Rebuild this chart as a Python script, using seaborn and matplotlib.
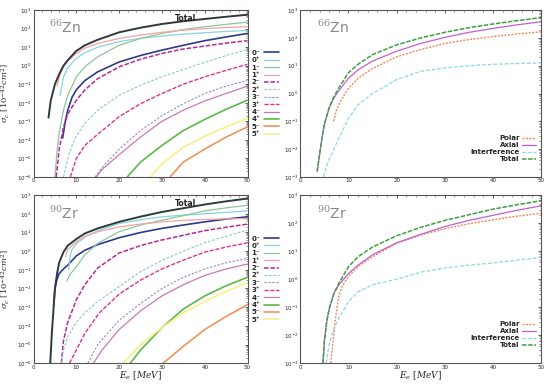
import numpy as np
import pandas as pd
import matplotlib
matplotlib.use("Agg")
import matplotlib.pyplot as plt
from matplotlib.ticker import MultipleLocator, LogLocator, NullFormatter
import seaborn as sns

sns.set_style("white")
plt.rcParams["font.family"] = ["DejaVu Sans"]
plt.rcParams["mathtext.fontset"] = "dejavuserif"

# ── data: E_e [MeV] and log10(sigma) ──────────────────────────────────
# 66Zn, multipole contributions
zn_tot_e = [3.5, 4, 5, 6, 7, 8, 10, 12, 15, 20, 25, 30, 35, 40, 45, 50]
zn_tot_v = [-2.8, -1.9, -1.0, -0.45, 0.0, 0.3, 0.8, 1.1, 1.4, 1.8, 2.05, 2.25, 2.4, 2.52, 2.64, 2.75]
zn_0m_e = [6.8, 7.5, 8, 9, 10, 12, 15, 20, 25, 30, 35, 40, 45, 50]
zn_0m_v = [-3.9, -2.9, -2.4, -1.7, -1.3, -0.8, -0.33, 0.2, 0.55, 0.84, 1.1, 1.35, 1.55, 1.74]
zn_0p_e = [6.2, 7, 8, 10, 12, 15, 20, 25, 30, 35, 40, 45, 50]
zn_0p_v = [-1.6, -0.6, -0.1, 0.4, 0.7, 1.0, 1.3, 1.48, 1.6, 1.7, 1.78, 1.85, 1.9]
zn_1m_e = [5, 5.5, 6, 7, 8, 10, 12, 15, 20, 25, 30, 35, 40, 45, 50]
zn_1m_v = [-6, -4.6, -3.6, -2.4, -1.6, -0.6, -0.05, 0.48, 1.1, 1.47, 1.74, 1.95, 2.1, 2.23, 2.35]
zn_1p_e = [5.5, 6, 7, 8, 10, 12, 15, 20, 25, 30, 35, 40, 45, 50]
zn_1p_v = [-1.1, -0.6, -0.05, 0.25, 0.66, 0.95, 1.2, 1.47, 1.65, 1.8, 1.92, 2.0, 2.06, 2.1]
zn_2m_e = [5.3, 6, 7, 8, 10, 12, 15, 20, 25, 30, 35, 40, 45, 50]
zn_2m_v = [-6, -4.5, -3.3, -2.6, -1.86, -1.3, -0.7, -0.06, 0.35, 0.66, 0.9, 1.06, 1.22, 1.35]
zn_2p_e = [7, 8, 9, 10, 12, 15, 20, 25, 30, 35, 40, 45, 50]
zn_2p_v = [-6, -5.0, -4.3, -3.8, -3.1, -2.4, -1.6, -1.05, -0.6, -0.2, 0.18, 0.55, 0.88]
zn_3m_e = [14.4, 16, 18, 20, 25, 30, 35, 40, 45, 50]
zn_3m_v = [-6, -5.5, -5.0, -4.5, -3.5, -2.7, -2.05, -1.5, -1.1, -0.8]
zn_3p_e = [8.6, 10, 12, 15, 20, 25, 30, 35, 40, 45, 50]
zn_3p_v = [-6, -5.0, -4.3, -3.7, -2.75, -2.05, -1.5, -1.0, -0.6, -0.25, 0.07]
zn_4m_e = [14.7, 16, 18, 20, 25, 30, 35, 40, 45, 50]
zn_4m_v = [-6, -5.6, -5.2, -4.8, -3.85, -3.0, -2.4, -1.9, -1.5, -1.1]
zn_4p_e = [21.9, 25, 30, 35, 40, 45, 50]
zn_4p_v = [-6, -5.2, -4.3, -3.5, -2.9, -2.35, -1.86]
zn_5m_e = [31.9, 35, 40, 45, 50]
zn_5m_v = [-6, -5.2, -4.5, -3.85, -3.3]
zn_5p_e = [27.3, 30, 35, 40, 45, 50]
zn_5p_v = [-6, -5.3, -4.4, -3.8, -3.3, -2.84]

# 90Zr, multipole contributions
zr_tot_e = [3.9, 4.3, 4.7, 5, 5.5, 6, 7, 8, 10, 12, 15, 20, 25, 30, 35, 40, 45, 50]
zr_tot_v = [-6, -4.3, -3.0, -2.0, -1.2, -0.6, -0.05, 0.3, 0.65, 0.95, 1.22, 1.57, 1.85, 2.1, 2.3, 2.5, 2.67, 2.82]
zr_0m_e = [4.7, 5, 5.5, 6, 7, 8, 10, 12, 15, 20, 25, 30, 35, 40, 45, 50]
zr_0m_v = [-2.9, -2.0, -1.5, -1.2, -0.95, -0.75, -0.25, 0.05, 0.35, 0.72, 1.0, 1.22, 1.4, 1.57, 1.72, 1.84]
zr_0p_e = [8.2, 8.6, 9, 10, 12, 15, 20, 25, 30, 35, 40, 45, 50]
zr_0p_v = [-1.0, -0.2, 0.1, 0.4, 0.75, 1.1, 1.48, 1.68, 1.84, 1.93, 2.0, 2.08, 2.16]
zr_1m_e = [7.8, 8.5, 10, 12, 15, 20, 25, 30, 35, 40, 45, 50]
zr_1m_v = [-1.6, -1.25, -0.83, -0.2, 0.42, 1.04, 1.4, 1.66, 1.9, 2.16, 2.32, 2.46]
zr_1p_e = [7.5, 8, 10, 12, 15, 20, 25, 30, 35, 40, 45, 50]
zr_1p_v = [-0.3, 0.1, 0.5, 0.8, 1.04, 1.3, 1.45, 1.57, 1.65, 1.7, 1.73, 1.75]
zr_2m_e = [6.5, 7, 8, 10, 12, 15, 20, 25, 30, 35, 40, 45, 50]
zr_2m_v = [-6, -4.8, -3.8, -2.6, -1.8, -0.9, -0.1, 0.3, 0.6, 0.85, 1.1, 1.28, 1.45]
zr_2p_e = [6.4, 7, 8, 10, 12, 15, 20, 25, 30, 35, 40, 45, 50]
zr_2p_v = [-6, -5.3, -4.6, -3.8, -3.3, -2.7, -1.9, -1.1, -0.5, 0.0, 0.45, 0.8, 1.13]
zr_3m_e = [12.7, 15, 20, 25, 30, 35, 40, 45, 50]
zr_3m_v = [-6, -5.0, -3.7, -2.8, -2.0, -1.4, -0.95, -0.62, -0.39]
zr_3p_e = [8.4, 10, 12, 15.4, 20, 25, 30, 35, 40, 45, 50]
zr_3p_v = [-6, -5.3, -4.4, -3.3, -2.3, -1.55, -0.95, -0.48, -0.05, 0.22, 0.45]
zr_4m_e = [14, 16, 20, 25, 30, 35, 40, 45, 50]
zr_4m_v = [-6, -5.3, -4.2, -3.2, -2.4, -1.8, -1.3, -0.95, -0.69]
zr_4p_e = [22.6, 25, 30, 35, 40, 45, 50]
zr_4p_v = [-6, -5.3, -4.1, -3.1, -2.4, -1.85, -1.4]
zr_5m_e = [30.3, 35, 40, 45, 50]
zr_5m_v = [-6, -5.1, -4.2, -3.5, -2.86]
zr_5p_e = [21, 25, 30, 35, 40, 45, 50]
zr_5p_v = [-6, -5.0, -4.1, -3.3, -2.7, -2.15, -1.69]

# 66Zn, polar / axial / interference
zn_pol_e = [6.9, 7.5, 8, 9, 10, 12, 15, 20, 25, 30, 35, 40, 45, 50]
zn_pol_v = [-1.0, -0.6, -0.4, -0.08, 0.18, 0.55, 0.9, 1.32, 1.58, 1.8, 1.94, 2.05, 2.14, 2.22]
zn_ax_e = [3.5, 4, 4.5, 5, 6, 7, 8, 10, 12, 15, 20, 25, 30, 35, 40, 45, 50]
zn_ax_v = [-2.8, -2.2, -1.6, -1.1, -0.52, -0.15, 0.1, 0.55, 0.85, 1.17, 1.52, 1.8, 2.02, 2.2, 2.34, 2.47, 2.58]
zn_int_e = [4.8, 5.5, 6, 7, 8, 10, 12, 15, 20, 25, 30, 35, 40, 45, 50]
zn_int_v = [-3.0, -2.6, -2.35, -2.0, -1.6, -0.9, -0.4, 0.0, 0.5, 0.8, 0.92, 1.0, 1.05, 1.08, 1.1]
zn_all_e = [3.5, 4, 4.5, 5, 6, 7, 8, 10, 12, 15, 20, 25, 30, 35, 40, 45, 50]
zn_all_v = [-2.8, -2.2, -1.6, -1.1, -0.5, -0.1, 0.2, 0.75, 1.05, 1.4, 1.75, 2.0, 2.2, 2.37, 2.5, 2.62, 2.73]

# 90Zr, polar / axial / interference
zr_pol_e = [6.3, 6.8, 7.3, 8, 8.7, 10, 12, 15, 20, 25, 30, 35, 40, 45, 50]
zr_pol_v = [-3.0, -2.2, -1.4, -0.6, -0.25, 0.1, 0.45, 0.8, 1.28, 1.58, 1.8, 1.98, 2.12, 2.25, 2.35]
zr_ax_e = [4.7, 5, 5.5, 6, 7, 8, 10, 12, 15, 20, 25, 30, 35, 40, 45, 50]
zr_ax_v = [-3.0, -2.2, -1.5, -1.05, -0.5, -0.2, 0.2, 0.5, 0.87, 1.3, 1.6, 1.88, 2.1, 2.28, 2.46, 2.62]
zr_int_e = [5.4, 6, 7, 8, 10, 12, 15, 20, 25, 30, 35, 40, 45, 50]
zr_int_v = [-3.0, -2.3, -1.75, -1.4, -0.8, -0.45, -0.2, 0.0, 0.25, 0.4, 0.5, 0.58, 0.68, 0.78]
zr_all_e = [4.7, 5, 5.5, 6, 7, 8, 10, 12, 15, 20, 25, 30, 35, 40, 45, 50]
zr_all_v = [-3.0, -2.2, -1.5, -1.05, -0.5, -0.15, 0.45, 0.8, 1.15, 1.55, 1.85, 2.1, 2.3, 2.5, 2.66, 2.8]

mult_labels = ["0\u207b", "0\u207a", "1\u207b", "1\u207a", "2\u207b", "2\u207a",
               "3\u207b", "3\u207a", "4\u207b", "4\u207a", "5\u207b", "5\u207a"]
mult_keys = ["0m", "0p", "1m", "1p", "2m", "2p", "3m", "3p", "4m", "4p", "5m", "5p"]

# styles: colour, linestyle, linewidth
mult_style = {
    "0m": ("#2e3a8c", "-", 1.2),
    "0p": ("#86d4e0", "-", 0.9),
    "1m": ("#8cc79a", "-", 0.9),
    "1p": ("#f2a3a3", "-", 0.9),
    "2m": ("#b42a96", (0, (3, 1.2)), 1.1),
    "2p": ("#8fc8c2", (0, (2.5, 1.5)), 0.8),
    "3m": ("#9c83c4", (0, (2, 1.5)), 0.8),
    "3p": ("#e0328c", (0, (3, 1.2)), 1.0),
    "4m": ("#c77ab8", "-", 0.9),
    "4p": ("#5cb84a", "-", 1.2),
    "5m": ("#f0925e", "-", 1.2),
    "5p": ("#f6f08a", "-", 1.2),
}

pad_style = {
    "Polar": ("#f08a5a", (0, (1.5, 1)), 1.0),
    "Axial": ("#c060cc", "-", 0.9),
    "Interference": ("#8ad8e8", (0, (3, 1.5)), 0.9),
    "Total": ("#3fa03f", (0, (3, 1)), 1.1),
}

data = globals()

fig = plt.figure(figsize=(5.5, 3.88), dpi=100)
ax_pos = {
    "zn_l": [0.061, 0.544, 0.389, 0.430],
    "zn_r": [0.546, 0.544, 0.438, 0.430],
    "zr_l": [0.061, 0.064, 0.389, 0.433],
    "zr_r": [0.546, 0.064, 0.438, 0.433],
}


def style_axes(ax, ylim):
    ax.set_yscale("log")
    ax.set_xlim(0, 50)
    ax.set_ylim(*ylim)
    ax.xaxis.set_major_locator(MultipleLocator(10))
    ax.xaxis.set_minor_locator(MultipleLocator(2))
    ax.yaxis.set_major_locator(LogLocator(base=10, numticks=20))
    ax.yaxis.set_minor_locator(LogLocator(base=10, subs=np.arange(2, 10), numticks=100))
    ax.yaxis.set_minor_formatter(NullFormatter())
    ax.tick_params(which="both", direction="in", top=True, right=True,
                   labelsize=4, pad=1.5, color="#444444")
    ax.tick_params(axis="x", pad=1)
    ax.tick_params(which="major", length=2.5, width=0.6)
    ax.tick_params(which="minor", length=1.3, width=0.4)
    for s in ax.spines.values():
        s.set_color("#555555")
        s.set_linewidth(0.8)
    ax.set_xlabel("")
    ax.set_ylabel("")


def draw_multipoles(ax, pre, iso):
    for key, lab in zip(mult_keys, mult_labels):
        e = data[f"{pre}_{key}_e"]
        v = 10.0 ** np.array(data[f"{pre}_{key}_v"])
        c, ls, lw = mult_style[key]
        sns.lineplot(x=e, y=v, ax=ax, color=c, linestyle=ls, linewidth=lw,
                     label=lab, estimator=None)
    e = data[f"{pre}_tot_e"]
    v = 10.0 ** np.array(data[f"{pre}_tot_v"])
    sns.lineplot(x=e, y=v, ax=ax, color="#2f3b3b", linewidth=1.4, estimator=None)
    style_axes(ax, (1e-6, 1e3))
    handles, labels = ax.get_legend_handles_labels()
    ax.legend(handles[:12], labels[:12], loc="center left", bbox_to_anchor=(0.995, 0.5),
              frameon=False, markerfirst=False, handlelength=2.3,
              labelspacing=0.2, handletextpad=0.5, borderpad=0.2,
              prop={"weight": "bold", "size": 5})
    ax.text(0.07, 0.86, iso, transform=ax.transAxes, fontsize=10, color="#8a8a8a")
    ax.text(0.66, 0.975, "Total", transform=ax.transAxes, fontsize=5.5,
            fontweight="bold", color="#222222", va="top")


def draw_parts(ax, pre, iso):
    for name, key in [("Polar", "pol"), ("Axial", "ax"), ("Interference", "int"), ("Total", "all")]:
        e = data[f"{pre}_{key}_e"]
        v = 10.0 ** np.array(data[f"{pre}_{key}_v"])
        c, ls, lw = pad_style[name]
        sns.lineplot(x=e, y=v, ax=ax, color=c, linestyle=ls, linewidth=lw,
                     label=name, estimator=None)
    style_axes(ax, (1e-3, 1e3))
    ax.legend(loc="lower right", bbox_to_anchor=(1.0, 0.06), frameon=False,
              markerfirst=False, handlelength=2.0,
              labelspacing=0.15, handletextpad=0.4, borderpad=0.2,
              prop={"weight": "bold", "size": 5})
    ax.text(0.07, 0.86, iso, transform=ax.transAxes, fontsize=10, color="#8a8a8a")


ax1 = fig.add_axes(ax_pos["zn_l"])
draw_multipoles(ax1, "zn", "$^{66}$Zn")
ax2 = fig.add_axes(ax_pos["zn_r"])
draw_parts(ax2, "zn", "$^{66}$Zn")
ax3 = fig.add_axes(ax_pos["zr_l"])
draw_multipoles(ax3, "zr", "$^{90}$Zr")
ax4 = fig.add_axes(ax_pos["zr_r"])
draw_parts(ax4, "zr", "$^{90}$Zr")

for ax in (ax1, ax3):
    ax.set_ylabel(r"$\sigma_c\ [10^{-42}cm^2]$", fontsize=6)
    ax.yaxis.set_label_coords(-0.1, 0.5)
for ax in (ax3, ax4):
    ax.set_xlabel(r"$E_e\ [MeV]$", fontsize=6.5)
    ax.xaxis.set_label_coords(0.5, -0.035)

fig.savefig("out.png", dpi=100)
